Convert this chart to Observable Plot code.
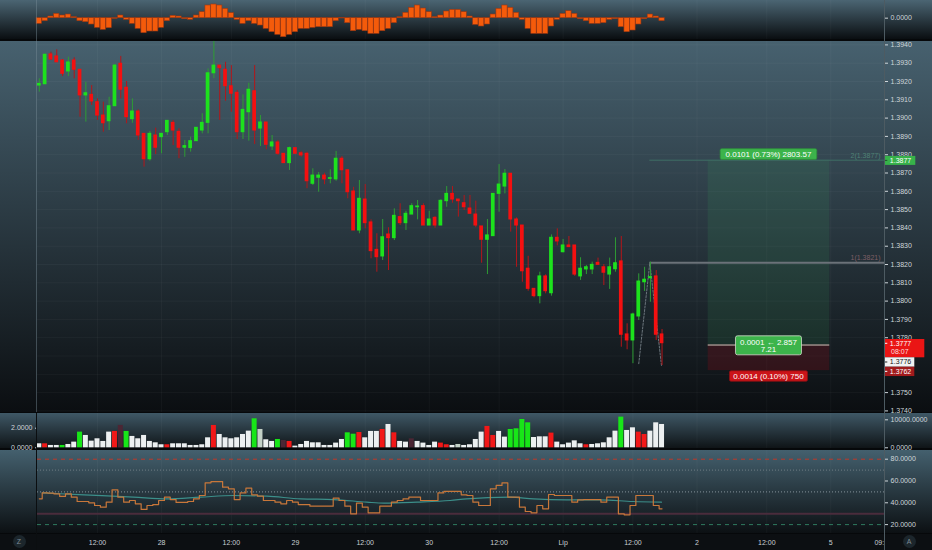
<!DOCTYPE html>
<html>
<head>
<meta charset="utf-8">
<script src="https://cdn.jsdelivr.net/npm/d3@7"></script>
<script src="https://cdn.jsdelivr.net/npm/@observablehq/plot@0.6"></script>
<style>
  html, body { margin: 0; padding: 0; background: #07090b; }
  #chart { position: relative; width: 932px; height: 550px; overflow: hidden; background: #06080a; }
  .panel { position: absolute; left: 0; width: 932px; }
  .panel svg { display: block; overflow: visible; }
  .vline { position: absolute; width: 1px; }
  .btn { position: absolute; width: 13px; height: 13px; border-radius: 50%; background: #1c262c; color: #7d8c95;
         font: 7px "Liberation Sans", Arial, sans-serif; text-align: center; line-height: 13px; }
</style>
</head>
<body>
<div id="chart"></div>
<script>
// ---------------- DATA ----------------
const opens = [
1.39178,1.39185,1.39348,1.39337,1.39315,1.39255,1.39315,1.39264,1.39124,1.39127,
1.39087,1.39014,1.38983,1.39065,1.39297,1.39166,1.38994,1.39036,1.38914,1.38775,
1.38905,1.38896,1.38923,1.38974,1.38925,1.38838,1.38836,1.38874,1.38932,1.38974,
1.39245,1.39287,1.39264,1.39174,1.39138,1.38923,1.39032,1.39147,1.38943,1.38976,
1.38845,1.38867,1.38805,1.38754,1.38836,1.38808,1.38805,1.38641,1.38674,1.38686,
1.38668,1.38665,1.38778,1.38715,1.38599,1.38386,1.38555,1.38430,1.38280,1.38244,
1.38364,1.38344,1.38459,1.38426,1.38473,1.38513,1.38519,1.38413,1.38455,1.38413,
1.38546,1.38586,1.38555,1.38535,1.38506,1.38473,1.38408,1.38335,1.38355,1.38586,
1.38626,1.38696,1.38446,1.38413,1.38177,1.38067,1.38027,1.38135,1.38043,1.38346,
1.38267,1.38304,1.38304,1.38135,1.38173,1.38173,1.38209,1.38185,1.38145,1.38174,
1.38217,1.37818,1.37785,1.37916,1.38103,1.38125,1.38135,1.37818];
const highs = [
1.39215,1.39351,1.39360,1.39373,1.39320,1.39333,1.39330,1.39264,1.39196,1.39178,
1.39105,1.39087,1.39114,1.39293,1.39337,1.39200,1.39105,1.39045,1.38914,1.38927,
1.38945,1.38914,1.38987,1.38987,1.38942,1.38878,1.38896,1.38947,1.39024,1.39269,
1.39419,1.39287,1.39305,1.39287,1.39151,1.39127,1.39191,1.39287,1.39014,1.38976,
1.38905,1.38878,1.38805,1.38841,1.38836,1.38818,1.38814,1.38723,1.38703,1.38699,
1.38718,1.38818,1.38790,1.38715,1.38622,1.38659,1.38637,1.38444,1.38368,1.38446,
1.38401,1.38504,1.38532,1.38491,1.38532,1.38550,1.38532,1.38491,1.38462,1.38554,
1.38626,1.38626,1.38555,1.38577,1.38577,1.38546,1.38408,1.38446,1.38586,1.38746,
1.38719,1.38696,1.38455,1.38413,1.38245,1.38067,1.38158,1.38144,1.38362,1.38395,
1.38337,1.38353,1.38304,1.38237,1.38195,1.38213,1.38235,1.38200,1.38235,1.38346,
1.38353,1.37876,1.37934,1.38149,1.38185,1.38213,1.38167,1.37845];
const lows = [
1.39142,1.39185,1.39315,1.39305,1.39227,1.39227,1.39215,1.39005,1.38978,1.39069,
1.38987,1.38923,1.38932,1.39065,1.39105,1.38969,1.38972,1.38878,1.38732,1.38765,
1.38801,1.38805,1.38905,1.38850,1.38778,1.38786,1.38814,1.38874,1.38914,1.38914,
1.39215,1.38987,1.39092,1.39032,1.38883,1.38883,1.38874,1.38856,1.38845,1.38827,
1.38823,1.38796,1.38754,1.38714,1.38805,1.38786,1.38614,1.38632,1.38595,1.38636,
1.38641,1.38655,1.38641,1.38559,1.38386,1.38368,1.38395,1.38231,1.38158,1.38222,
1.38167,1.38331,1.38413,1.38386,1.38473,1.38444,1.38413,1.38413,1.38398,1.38413,
1.38513,1.38535,1.38459,1.38495,1.38477,1.38401,1.38207,1.38145,1.38355,1.38486,
1.38586,1.38377,1.38185,1.38103,1.38054,1.38018,1.37985,1.38040,1.38027,1.38302,
1.38264,1.38295,1.38135,1.38113,1.38145,1.38145,1.38198,1.38085,1.38064,1.38158,
1.37748,1.37734,1.37658,1.37894,1.38053,1.37994,1.37785,1.37648];
const closes = [
1.39187,1.39346,1.39320,1.39305,1.39242,1.39304,1.39264,1.39124,1.39136,1.39091,
1.39014,1.38972,1.39065,1.39287,1.39155,1.39005,1.39036,1.38905,1.38775,1.38914,
1.38838,1.38914,1.38985,1.38932,1.38838,1.38847,1.38874,1.38947,1.38974,1.39245,
1.39287,1.39273,1.39174,1.39133,1.38923,1.39045,1.39155,1.38932,1.38976,1.38854,
1.38867,1.38805,1.38754,1.38836,1.38805,1.38796,1.38655,1.38686,1.38686,1.38665,
1.38672,1.38778,1.38715,1.38595,1.38386,1.38559,1.38426,1.38273,1.38240,1.38349,
1.38344,1.38466,1.38426,1.38477,1.38519,1.38517,1.38413,1.38446,1.38413,1.38548,
1.38586,1.38555,1.38546,1.38513,1.38477,1.38413,1.38335,1.38359,1.38586,1.38637,
1.38696,1.38446,1.38413,1.38163,1.38067,1.38027,1.38135,1.38054,1.38346,1.38326,
1.38304,1.38295,1.38145,1.38177,1.38185,1.38198,1.38198,1.38155,1.38185,1.38207,
1.37816,1.37785,1.37927,1.38107,1.38117,1.38131,1.37816,1.37770];

// oscillator histogram (top pane)
const histValues = [
-1.7,-0.9,0.5,1.3,0.8,1.1,0.3,-0.9,-1.2,-1.9,
-2.9,-3.5,-3.0,-0.2,0.8,-0.5,-1.7,-3.2,-4.5,-4.0,
-4.0,-2.9,-0.9,0.7,0.5,-0.3,-0.5,0.8,1.8,3.8,
4.1,3.8,2.8,1.5,-0.5,-1.7,-0.9,-1.7,-2.2,-3.2,
-4.2,-5.0,-5.7,-5.0,-4.2,-3.2,-3.2,-2.9,-2.7,-2.7,
-2.7,-0.9,-0.1,-1.5,-3.9,-3.5,-3.9,-4.7,-4.7,-3.9,
-3.2,-1.5,0.3,1.6,3.1,3.8,2.9,1.8,0.3,0.8,
2.0,2.5,2.5,1.8,0.5,-2.0,-2.5,-1.9,1.1,2.8,
3.8,3.1,1.6,-0.5,-3.2,-4.7,-4.7,-4.7,-2.5,-0.5,
1.3,2.1,1.3,-0.3,-0.9,-1.7,-1.7,-1.5,-0.5,-0.3,
-2.7,-4.2,-3.7,-1.9,-0.3,1.1,0.5,-0.9];

// volume pane (left-scale units)
const volumes = [
0.41,0.41,0.24,0.24,0.24,0.34,0.58,1.60,1.26,0.68,
0.92,0.65,1.60,1.67,2.28,1.67,1.16,0.92,1.26,0.65,
0.51,0.31,0.31,0.41,0.41,0.41,0.24,0.24,0.31,1.02,
2.28,1.36,1.02,0.92,1.02,1.36,1.70,2.96,1.87,0.82,
0.65,0.85,0.75,0.65,0.17,0.34,0.65,0.51,0.51,0.24,
0.24,0.48,0.85,1.53,1.39,1.56,1.02,1.67,1.67,1.87,
2.38,1.53,0.65,0.58,0.92,0.65,0.48,0.24,0.58,0.48,
0.31,0.24,0.34,0.24,0.31,0.85,1.60,2.18,1.26,1.67,
1.09,1.87,1.94,2.89,2.55,1.05,1.12,1.12,1.50,0.58,
0.31,0.48,0.71,0.41,0.31,0.34,0.41,0.51,1.02,1.70,
3.13,1.77,2.04,1.60,1.36,1.70,2.55,2.38];
const volKinds = [
"w","r","w","w","g","w","w","g","w","w",
"w","w","w","r","m","g","w","w","w","w",
"w","w","r","w","w","w","w","w","w","w",
"r","w","w","w","w","w","w","g","s","w",
"w","g","m","r","w","w","w","w","w","w",
"w","w","w","g","g","r","w","w","w","r",
"w","r","w","w","m","w","w","w","w","r",
"r","w","s","w","w","w","w","r","r","w",
"w","g","g","g","g","w","w","w","r","w",
"w","w","w","w","r","w","w","w","w","w",
"g","w","w","r","r","w","w","w"];
const volLeftTicks = [0, 2];
const volRightTicks = [0, 10000];
const volRightPerLeft = 3500;

// RSI pane
const rsiValues = [
43.6,49.1,48.8,48.2,45.8,48.2,45.2,41.2,41.2,40.0,
37.5,36.0,40.6,51.9,45.2,40.6,42.1,39.1,33.9,37.5,
38.4,42.1,45.2,43.0,40.3,40.3,41.2,43.6,46.7,58.3,
59.5,59.5,54.3,52.8,43.0,49.1,53.4,47.3,46.1,42.1,
42.1,40.6,39.1,42.1,40.6,38.4,38.4,36.9,36.9,36.9,
36.9,44.3,42.1,36.9,29.9,39.7,36.0,30.8,30.8,36.9,
36.9,40.6,42.1,43.6,45.2,45.2,42.1,42.1,42.1,49.1,
50.4,50.4,50.4,47.3,46.7,40.6,37.5,37.5,52.8,55.9,
58.3,45.2,45.2,36.0,32.0,30.8,37.5,34.5,47.6,46.7,
46.7,46.7,40.6,42.7,43.0,43.0,43.0,40.6,45.2,45.2,
29.9,29.0,37.5,46.7,46.7,46.7,37.5,34.5];
const rsiMaIdx  = [0.5,7.7,16.2,22,27.7,33.4,39.1,44.9,50.6,56.3,59.2,64.9,70.6,73.4,80.8,84.9,90.6,96.3,102,106.9];
const rsiMaVals = [49.1,47.3,45.2,43.6,45.2,46.7,46.1,43.6,43.0,40.6,39.7,40.6,42.1,43.6,45.2,43.6,42.7,42.7,41.2,40.6];
const rsiLevels = [80, 70, 50, 30, 20];
const rsiTicks = [20, 40, 60, 80];

// axes
const priceTicks = [1.374,1.375,1.376,1.377,1.378,1.379,1.380,1.381,1.382,1.383,1.384,
                    1.385,1.386,1.387,1.388,1.389,1.390,1.391,1.392,1.393,1.394];
const priceTicksHidden = [1.376, 1.377];   // covered by the price-scale labels in the reference
const timeTickIdx = [10, 21, 33, 44, 56, 67, 79, 90, 102, 113, 125, 136, 145];
const timeTickLabels = ["12:00","28","12:00","29","12:00","30","12:00","Lip","12:00","2","12:00","5","09:00"];

// drawings / position tool
const lastPrice = 1.3777, lastTimer = "08:07";
const posStartIdx = 114.93, posEndIdx = 135.82;
const posEntry = 1.3776, posTarget = 1.3877, posStop = 1.3762;
const posTopText = "0.0101 (0.73%) 2803.57";
const posMidText = ["0.0001 \u2190 2.857", "7.21"];
const posBotText = "0.0014 (0.10%) 750";
const levelPrices = [1.3821, 1.3877];
const levelNames = ["1", "2"];
const levelStartIdx = 104.9;
const trendIdx = [103, 104.9, 106.9];
const trendPrices = [1.37658, 1.3821, 1.37648];

// ---------------- LAYOUT / STYLE ----------------
const FONT = '"Liberation Sans", Arial, sans-serif';
const W = 932, ML = 37, MR = 48;
const xDomain = [-0.309, 145.223];
const GREEN = "#1de21d", RED = "#f41010", GREEN_W = "#2e9c34", RED_W = "#b3161a";
const AX = "#cfd6da";
const volColorMap = {w: "#eceff0", r: "#f21818", g: "#18e618", m: "#4b2634", s: "#c3d0c6"};

const chart = document.getElementById("chart");
function panel(top, h, bg) {
  const d = document.createElement("div");
  d.className = "panel";
  d.style.top = top + "px"; d.style.height = h + "px"; d.style.background = bg;
  chart.appendChild(d);
  return d;
}
function base(h, yopts) {
  return {
    width: W, height: h, marginLeft: ML, marginRight: MR, marginTop: 0, marginBottom: 0,
    x: {domain: xDomain, axis: null}, y: {...yopts, axis: null},
    style: {background: "transparent", overflow: "visible", fontFamily: FONT, fontSize: "7px", color: AX}
  };
}
const axisOpts = {tickSize: 3, tickPadding: 3, fontSize: 7, color: AX, label: null};
const grid = () => Plot.gridX(timeTickIdx.slice(0, 12), {stroke: "#ffffff", strokeOpacity: 0.035});

const idx = d3.range(opens.length);
const candles = idx.map(i => ({i, o: opens[i], h: highs[i], l: lows[i], c: closes[i], up: closes[i] >= opens[i]}));
const hist = idx.map(i => ({i, v: histValues[i]}));
const vols = idx.map(i => ({i, v: volumes[i], col: volColorMap[volKinds[i]]}));
const rsi = idx.map(i => ({i, v: rsiValues[i]}));
const rsiMa = rsiMaIdx.map((x, k) => ({i: x, v: rsiMaVals[k]}));
const pos = {start: posStartIdx, end: posEndIdx, entry: posEntry, target: posTarget, stop: posStop};
const levels = levelPrices.map((p, k) => ({p, x1: levelStartIdx, x2: xDomain[1], label: `${levelNames[k]}(${p.toFixed(4)})`,
  color: k === 0 ? "#6b7279" : "#3f6e64", tcolor: k === 0 ? "#7d5f66" : "#4f8276", w: k === 0 ? 2 : 1}));
const trend = trendIdx.map((x, k) => ({i: x, p: trendPrices[k]}));

// ---------------- TOP OSCILLATOR ----------------
panel(0, 39, "linear-gradient(180deg,#4b6573 0%,#0a0e11 100%)").appendChild(Plot.plot({
  ...base(39, {domain: [-6.4, 5.3]}),
  marks: [
    grid(),
    Plot.rect(hist, {x1: d => d.i - 0.46, x2: d => d.i + 0.46, y1: () => 0, y2: "v",
      fill: "#f45b0b", stroke: "#9c3612", strokeWidth: 0.6}),
    Plot.axisY({anchor: "right", ticks: [0], tickFormat: d => d.toFixed(4), ...axisOpts})
  ]
}));

// ---------------- MAIN PRICE PANE ----------------
function mainLabels(index, scales, values, dims) {
  const X = scales.x, Y = scales.y;
  const g = d3.create("svg:g").attr("font-family", FONT);
  const box = (x0, y0, w, h, fill, stroke, rx) => g.append("rect").attr("x", x0).attr("y", y0).attr("width", w).attr("height", h)
      .attr("rx", rx).attr("fill", fill).attr("stroke", stroke || "none").attr("stroke-width", stroke ? 0.8 : 0);
  const txt = (x, y, s, color, size, anchor) => g.append("text").attr("x", x).attr("y", y).attr("dy", "0.35em")
      .attr("fill", color).attr("font-size", size).attr("text-anchor", anchor || "middle").text(s);
  const tick = (x, y, color) => g.append("line").attr("x1", x).attr("x2", x + 3).attr("y1", y).attr("y2", y)
      .attr("stroke", color).attr("stroke-width", 1);
  // position tool labels
  const cx = (X(pos.start) + X(pos.end)) / 2;
  const yT = Y(pos.target), yE = Y(pos.entry), yS = Y(pos.stop), yL = Y(lastPrice);
  box(cx - 48.3, yT - 11, 96.6, 10.7, "#3cb44b", "#2f8d3c", 1.5);
  txt(cx, yT - 5.6, posTopText, "#ffffff", 8);
  box(cx - 33, yE - 8.7, 66, 19, "#3cb44b", "#d3dccb", 2);
  txt(cx, yE - 2.8, posMidText[0], "#ffffff", 8);
  txt(cx, yE + 4.9, posMidText[1], "#ffffff", 8);
  box(cx - 39, yS + 0.6, 78, 10.4, "#cc1419", "#8a1014", 1.5);
  txt(cx, yS + 5.8, posBotText, "#ffffff", 8);
  // price-scale labels
  const xr = dims.width - dims.marginRight + 0.3;
  box(xr, yT - 3.8, 31, 9, "#37b24a", null, 0);
  tick(xr, yT + 0.7, "#1d5a26"); txt(xr + 5.5, yT + 0.7, pos.target.toFixed(4), "#ffffff", 7, "start");
  box(xr, yL - 3.7, 40, 18.3, "#ea1515", null, 0);
  tick(xr, yL + 0.6, "#ffffff"); txt(xr + 5.5, yL + 0.6, lastPrice.toFixed(4), "#ffffff", 7, "start");
  txt(xr + 15.5, yL + 8.4, lastTimer, "#ffdede", 7, "middle");
  box(xr, yL + 14.6, 30, 9.4, "#f1f1f1", null, 0);
  tick(xr, yL + 19.3, "#222"); txt(xr + 5.5, yL + 19.3, pos.entry.toFixed(4), "#111111", 7, "start");
  box(xr, yS - 3.4, 30, 9.3, "#a11a1c", null, 0);
  tick(xr, yS + 1.2, "#ffffff"); txt(xr + 5.5, yS + 1.2, pos.stop.toFixed(4), "#ffffff", 7, "start");
  return g.node();
}

const labelTicks = priceTicks.filter(t => !priceTicksHidden.includes(t));
panel(41, 371, "linear-gradient(180deg,#47616f 0%,#0b0e11 100%)").appendChild(Plot.plot({
  ...base(371, {domain: [1.373913, 1.394186]}),
  marks: [
    Plot.gridY(priceTicks, {stroke: "#ffffff", strokeOpacity: 0.035}),
    grid(),
    Plot.rect([pos], {x1: "start", x2: "end", y1: "entry", y2: "target", fill: "rgb(60,160,90)", fillOpacity: 0.14}),
    Plot.rect([pos], {x1: "start", x2: "end", y1: "stop", y2: "entry", fill: "rgb(165,10,25)", fillOpacity: 0.22}),
    Plot.ruleY([pos], {x1: "start", x2: "end", y: "entry", stroke: "#cfc7bc", strokeWidth: 1}),
    Plot.ruleY(levels, {x1: "x1", x2: "x2", y: "p", stroke: "color", strokeWidth: "w"}),
    Plot.text(levels, {x: "x2", y: "p", text: "label", textAnchor: "end", dx: -4, dy: -4.5, fill: "tcolor", fontSize: 7}),
    Plot.line(trend, {x: "i", y: "p", stroke: "#6b757c", strokeWidth: 1, strokeDasharray: "2,1.5"}),
    Plot.ruleX(candles, {x: "i", y1: "l", y2: "h", stroke: d => d.up ? GREEN_W : RED_W, strokeWidth: 1}),
    Plot.rect(candles, {x1: d => d.i - 0.32, x2: d => d.i + 0.32, y1: "o", y2: "c",
      fill: d => d.up ? GREEN : RED, insetTop: -0.5, insetBottom: -0.5}),
    Plot.axisY({anchor: "right", ticks: labelTicks, tickFormat: d => d.toFixed(4), ...axisOpts}),
    mainLabels
  ]
}));

// ---------------- VOLUME PANE ----------------
panel(413, 35, "linear-gradient(180deg,#3f5866 0%,#0f1417 100%)").appendChild(Plot.plot({
  ...base(35, {domain: [-0.071, 3.5]}),
  marks: [
    grid(),
    Plot.rect(vols, {x1: d => d.i - 0.43, x2: d => d.i + 0.43, y1: () => 0, y2: "v", fill: "col"}),
    Plot.axisY({anchor: "left", ticks: volLeftTicks, tickFormat: d => d.toFixed(4), ...axisOpts, tickSize: 2}),
    Plot.axisY({anchor: "right", ticks: volRightTicks.map(v => v / volRightPerLeft),
      tickFormat: d => Math.round(d * volRightPerLeft).toFixed(4), ...axisOpts})
  ]
}));

// ---------------- RSI PANE ----------------
const levelStyle = {80: ["#c0392b", "4,4", 1], 70: ["#6f7d84", "1,2", 1], 50: ["#84929a", "1,2", 1], 30: ["#4a2c3c", null, 2], 20: ["#2f7a5e", "4,4", 1]};
panel(450, 83, "linear-gradient(180deg,#44606e 0%,#0c1013 100%)").appendChild(Plot.plot({
  ...base(83, {domain: [11.83, 87.98]}),
  marks: [
    grid(),
    ...rsiLevels.map(v => Plot.ruleY([v], {stroke: levelStyle[v][0], strokeDasharray: levelStyle[v][1], strokeWidth: levelStyle[v][2]})),
    Plot.line(rsiMa, {x: "i", y: "v", curve: "monotone-x", stroke: "#3c8f8a", strokeWidth: 1.2}),
    Plot.line(rsi, {x: "i", y: "v", curve: "step", stroke: "#c8773a", strokeWidth: 1.2}),
    Plot.axisY({anchor: "right", ticks: rsiTicks, tickFormat: d => d.toFixed(4), ...axisOpts})
  ]
}));

// ---------------- TIME AXIS ----------------
const timeTicks = timeTickIdx.map((i, k) => ({i, label: timeTickLabels[k]}));
panel(534, 16, "#0c0f12").appendChild(Plot.plot({
  ...base(16, {domain: [0, 1]}),
  marks: [
    Plot.text(timeTicks, {x: "i", frameAnchor: "middle", text: "label", fill: "#c9d0d4", fontSize: 7, clip: true})
  ]
}));

// pane borders and buttons
function vline(x, top, h, color) {
  const d = document.createElement("div"); d.className = "vline";
  d.style.left = x + "px"; d.style.top = top + "px"; d.style.height = h + "px"; d.style.background = color;
  chart.appendChild(d);
}
vline(36, 0, 412, "rgba(120,140,150,0.45)");
vline(36, 413, 137, "#0b0e10");
vline(884, 0, 550, "#4d5b62");
function btn(x, t) {
  const d = document.createElement("div"); d.className = "btn";
  d.style.left = (x - 6.5) + "px"; d.style.top = "534.5px"; d.textContent = t; chart.appendChild(d);
}
btn(19, "Z"); btn(909, "A");
</script>
</body>
</html>
